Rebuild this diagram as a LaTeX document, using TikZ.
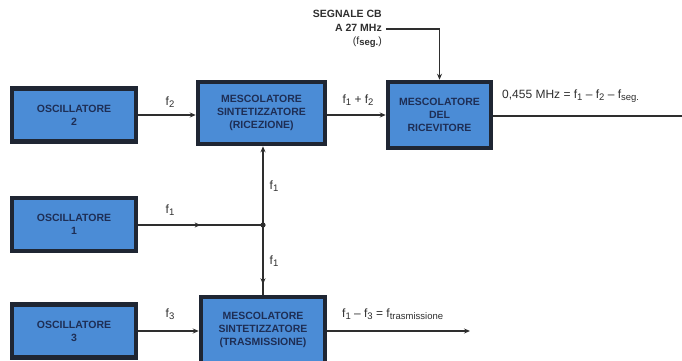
\documentclass[tikz,border=0pt]{standalone}
\usepackage{fontspec}
\setmainfont{Liberation Sans}
\usetikzlibrary{arrows.meta,decorations.markings}
\definecolor{boxblue}{HTML}{4B8CD6}
\definecolor{boxedge}{HTML}{1F2633}
\definecolor{txtblue}{HTML}{1E2E55}
\definecolor{ln}{HTML}{2E2E2E}
\newcommand{\sbs}[1]{\raisebox{-0.3ex}{\fontsize{9.5}{10}\selectfont #1}}
\tikzset{
  blk/.style={draw=boxedge, line width=4.5pt, fill=boxblue, inner sep=0pt, align=center,
    font=\fontsize{10.5}{13}\selectfont\bfseries, text=txtblue},
  wire/.style={draw=ln, line width=1.6pt},
  tip/.style={-{Stealth[length=6pt,width=5pt]}},
  midtip/.style={postaction={decorate}, decoration={markings, mark=at position #1 with {\arrow{Stealth[length=6pt,width=5pt]}}}},
  lbl/.style={font=\fontsize{12}{13}\selectfont, text=ln, inner sep=1pt}
}
\begin{document}
\begin{tikzpicture}[x=1pt,y=-1pt]
\useasboundingbox (0,0) rectangle (682,361);
\node[blk, minimum width=124pt, minimum height=53pt] (osc2) at (74,115) {OSCILLATORE\\2};
\node[blk, minimum width=124pt, minimum height=53pt] (osc1) at (74,224.5) {OSCILLATORE\\1};
\node[blk, minimum width=124pt, minimum height=53pt] (osc3) at (74,331) {OSCILLATORE\\3};
\node[blk, minimum width=127pt, minimum height=62pt] (mixr) at (261.5,113) {MESCOLATORE\\SINTETIZZATORE\\(RICEZIONE)};
\node[blk, minimum width=103pt, minimum height=66pt] (mixrx) at (439.5,115) {MESCOLATORE\\DEL\\RICEVITORE};
\node[blk, minimum width=124pt, minimum height=66pt] (mixt) at (263,330) {MESCOLATORE\\SINTETIZZATORE\\(TRASMISSIONE)};

\coordinate (j) at (263,225);
\coordinate (outr) at (682,116);
\coordinate (outt) at (470,331);

\node[lbl, align=right, anchor=east, font=\fontsize{10.5}{14}\selectfont\bfseries] (sig) at (383,29)
  {SEGNALE CB\\A 27 MHz\\[-1pt]{\mdseries(f\sbs{\bfseries seg.})}};
\coordinate (sigst) at (386,29);

\draw[wire, tip] (osc2.east) -- (mixr.west |- osc2.east);
\draw[wire, tip] (mixr.east |- mixrx.west) -- (mixrx.west);
\draw[wire] (mixrx.east |- outr) -- (outr);
\draw[wire, tip] (sigst) -| (mixrx.north);
\draw[wire, midtip=0.5] (osc1.east |- j) -- (j);
\draw[wire, tip] (j) -- (mixr.south -| j);
\draw[wire, midtip=0.85] (j) -- (mixt.north -| j);
\draw[wire, tip] (osc3.east) -- (mixt.west |- osc3.east);
\draw[wire, tip] (mixt.east |- outt) -- (outt);
\fill[ln] (j) circle (2.6pt);

\node[lbl] (lf2) at (170,102) {f\sbs{2}};
\node[lbl] (lf12) at (358,100) {f\sbs{1} + f\sbs{2}};
\node[lbl, anchor=west] (lout) at (501,96) {0,455 MHz = f\sbs{1} -- f\sbs{2} -- f\sbs{seg.}};
\node[lbl] (lf1a) at (170,210) {f\sbs{1}};
\node[lbl] (lf1b) at (274,186) {f\sbs{1}};
\node[lbl] (lf1c) at (274,261) {f\sbs{1}};
\node[lbl] (lf3) at (170,314) {f\sbs{3}};
\node[lbl, anchor=west] (ltx) at (341,314) {f\sbs{1} -- f\sbs{3} = f\sbs{trasmissione}};
\end{tikzpicture}
\end{document}
